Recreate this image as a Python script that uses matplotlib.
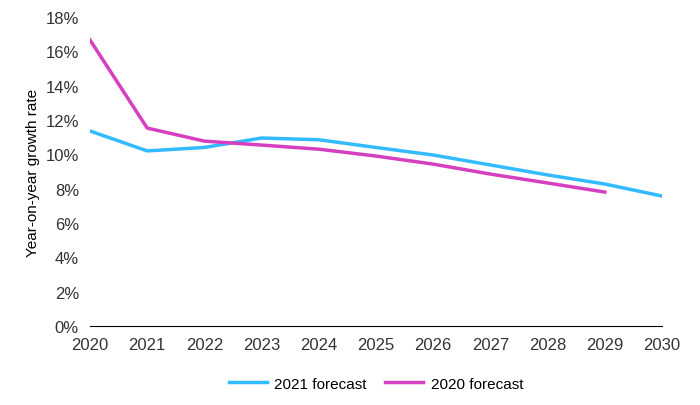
import matplotlib
matplotlib.use("Agg")
import matplotlib.pyplot as plt

years = list(range(2020, 2031))
f2021 = [11.36, 10.2, 10.4, 10.95, 10.85, 10.4, 9.96, 9.38, 8.8, 8.27, 7.57]
years2020 = list(range(2020, 2030))
f2020 = [16.66, 11.53, 10.77, 10.54, 10.3, 9.9, 9.43, 8.85, 8.33, 7.8]

plt.rcParams['font.family'] = ['Liberation Sans Narrow', 'Liberation Sans', 'DejaVu Sans']
fig = plt.figure(figsize=(7, 4.06), dpi=100)
ax = fig.add_axes([90/700, 1-327/406, 572/700, 309/406])
ax.plot(years, f2021, color='#33BBFF', lw=2.5, label='2021 forecast')
ax.plot(years2020, f2020, color='#D63FC0', lw=2.5, label='2020 forecast')
ax.set_xlim(2020, 2030)
ax.set_ylim(0, 18)
ax.set_yticks(range(0, 19, 2))
ax.set_yticklabels([f"{v}%" for v in range(0, 19, 2)], fontsize=12)
ax.set_xticks(years)
ax.set_xticklabels([str(y) for y in years], fontsize=12)
ax.tick_params(length=0, pad=8, colors='#333333')
for s in ['top', 'right', 'left']:
    ax.spines[s].set_visible(False)
ax.spines['bottom'].set_color('black')
ax.set_ylabel('Year-on-year growth rate', fontsize=11)
ax.legend(loc='upper center', bbox_to_anchor=(0.5, -0.12), ncol=2, frameon=False,
          fontsize=11, handlelength=2.5, columnspacing=1.2, handletextpad=0.5)
fig.savefig('out.png', dpi=100)
